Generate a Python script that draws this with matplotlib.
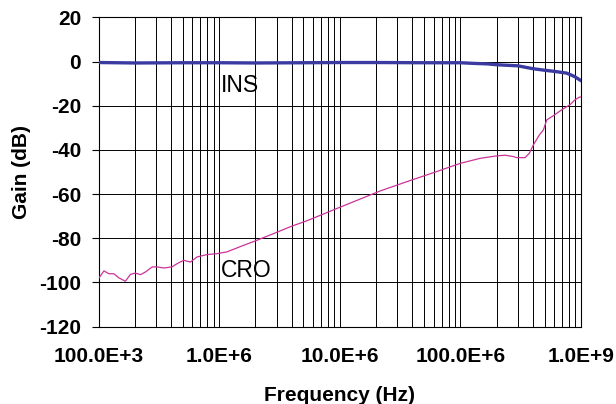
import matplotlib
matplotlib.use("Agg")
import matplotlib.pyplot as plt
from matplotlib.ticker import LogLocator, NullFormatter

plt.rcParams['font.family'] = ['Liberation Sans', 'DejaVu Sans']
plt.rcParams['axes.unicode_minus'] = False

# --- data ---
ins_freq = [1.0e5, 2.0e5, 5.0e5, 1.0e6, 2.0e6, 5.0e6, 1.0e7, 2.0e7, 5.0e7,
            1.0e8, 1.3e8, 1.66e8, 2.0e8, 3.0e8, 4.0e8, 5.0e8, 6.0e8, 7.6e8,
            8.8e8, 1.0e9]
ins_gain = [-0.4, -0.6, -0.5, -0.5, -0.6, -0.5, -0.4, -0.4, -0.5,
            -0.5, -0.8, -1.0, -1.4, -1.9, -3.2, -3.9, -4.4, -5.2,
            -6.7, -8.6]

cro_freq = [1.00e5, 1.11e5, 1.22e5, 1.34e5, 1.47e5, 1.67e5, 1.84e5, 2.02e5,
            2.23e5, 2.45e5, 2.79e5, 3.06e5, 3.48e5, 4.07e5, 4.49e5, 5.09e5,
            5.78e5, 6.56e5, 7.94e5, 9.62e5, 1.16e6, 1.60e6, 2.00e6, 2.83e6,
            3.89e6, 5.52e6, 1.0e7, 2.16e7, 3.96e7, 6.38e7, 9.95e7, 1.46e8,
            2.00e8, 2.35e8, 2.75e8, 2.93e8, 3.44e8, 3.73e8, 4.03e8, 4.52e8,
            4.88e8, 5.20e8, 5.90e8, 6.92e8, 8.11e8, 8.91e8, 9.68e8, 1.0e9]
cro_gain = [-98.3, -94.8, -96.1, -96.1, -97.9, -99.5, -96.4, -95.8,
            -96.5, -95.3, -93.0, -93.0, -93.5, -93.0, -91.5, -90.0,
            -90.8, -88.5, -87.4, -87.0, -86.2, -83.2, -81.2, -77.9,
            -74.8, -71.8, -66.0, -58.6, -53.6, -49.8, -46.1, -43.8,
            -42.7, -42.4, -43.0, -43.5, -43.5, -41.5, -37.7, -33.2,
            -30.9, -26.4, -24.5, -21.8, -19.5, -17.3, -16.1, -16.0]

x_ticks = [1e5, 1e6, 1e7, 1e8, 1e9]
x_tick_labels = ["100.0E+3", "1.0E+6", "10.0E+6", "100.0E+6", "1.0E+9"]
y_ticks = [20, 0, -20, -40, -60, -80, -100, -120]

fig = plt.figure(figsize=(6.16, 4.04), dpi=100)
ax = fig.add_axes([98.5 / 616, 77.5 / 404, 482.5 / 616, 309 / 404])

ax.plot(ins_freq, ins_gain, color="#3a3aa0", lw=2.4, zorder=3)
ax.plot(cro_freq, cro_gain, color="#cc3399", lw=0.9, zorder=3)

ax.set_xscale("log")
ax.set_xlim(1e5, 1e9)
ax.set_ylim(-120, 20)

ax.set_xticks(x_ticks)
ax.set_xticklabels(x_tick_labels)
ax.xaxis.set_minor_locator(LogLocator(base=10, subs=range(2, 10)))
ax.xaxis.set_minor_formatter(NullFormatter())
ax.set_yticks(y_ticks)

ax.grid(True, which="both", axis="x", color="black", lw=0.7)
ax.grid(True, which="major", axis="y", color="black", lw=0.7)

ax.tick_params(axis="x", which="both", length=0, pad=15, labelsize=15)
ax.tick_params(axis="y", length=5, pad=7.5, labelsize=15, direction="out")
for lab in ax.get_xticklabels() + ax.get_yticklabels():
    lab.set_fontweight("bold")

for s in ax.spines.values():
    s.set_color("black")
    s.set_linewidth(0.8)

ax.set_xlabel("Frequency (Hz)", fontsize=15, fontweight="bold")
ax.xaxis.label.set_va("baseline")
ax.xaxis.set_label_coords(0.5, -0.241)
ax.set_ylabel("Gain (dB)", fontsize=15, fontweight="bold")
ax.yaxis.set_label_coords(-0.139, 0.5)

ax.text(1.04e6, -13.6, "INS", fontsize=16.5, va="baseline", ha="left", zorder=4)
ax.text(1.04e6, -97.6, "CRO", fontsize=16.5, va="baseline", ha="left", zorder=4)

fig.savefig("out.png", dpi=100)
